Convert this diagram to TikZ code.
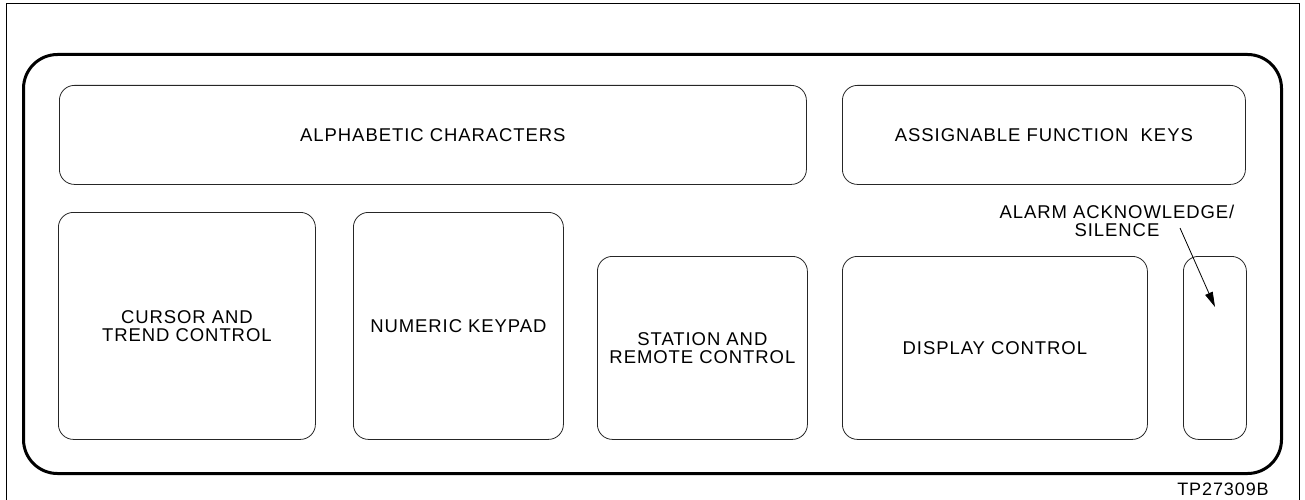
\documentclass[tikz,border=0pt]{standalone}
\usepackage{fontspec}
\setmainfont{Liberation Sans}[LetterSpace=5]
\usetikzlibrary{arrows.meta}
\begin{document}
\begin{tikzpicture}[x=1pt,y=-1pt,
  keybox/.style={draw=black!85,line width=0.8pt,rounded corners=15pt,inner sep=0pt,anchor=north west,align=center,font=\fontsize{18.5}{18}\selectfont},
  lbl/.style={align=center,font=\fontsize{18.5}{18}\selectfont,inner sep=0pt}]
\useasboundingbox (0,0) rectangle (1305,500);
% outer thin frame
\draw[line width=0.9pt] (6,500) -- (6,3) -- (1299,3) -- (1299,500);
% thick frame
\node[draw,line width=3pt,rounded corners=34pt,anchor=north west,minimum width=1258pt,minimum height=419pt,inner sep=0pt] (frame) at (22,53) {};
\node[keybox,minimum width=747pt,minimum height=99pt] (alpha) at (59,85) {ALPHABETIC CHARACTERS};
\node[keybox,minimum width=403pt,minimum height=99pt] (assign) at (842,85) {ASSIGNABLE FUNCTION\ \ KEYS};
\node[keybox,minimum width=257pt,minimum height=227pt] (cursor) at (58,212) {CURSOR AND\\TREND CONTROL};
\node[keybox,minimum width=210pt,minimum height=227pt] (numeric) at (353,212) {NUMERIC KEYPAD};
\node[keybox,minimum width=210pt,minimum height=183pt] (station) at (597,256) {STATION AND\\REMOTE CONTROL};
\node[keybox,minimum width=305pt,minimum height=183pt] (display) at (842,256) {DISPLAY CONTROL};
\node[keybox,minimum width=63pt,minimum height=183pt] (alarm) at (1183,256) {};
\node[lbl] (alarmlbl) at (1117,221) {ALARM ACKNOWLEDGE/\\SILENCE};
\coordinate (arrstart) at (1180,228);
\coordinate (arrend) at (1215,307);
\draw[line width=0.8pt,-{Triangle[length=15pt,width=8pt]}] (arrstart) -- (arrend);
\node[lbl,font=\fontsize{18}{18}\selectfont] (tp) at (1223,489) {TP27309B};
\end{tikzpicture}
\end{document}
